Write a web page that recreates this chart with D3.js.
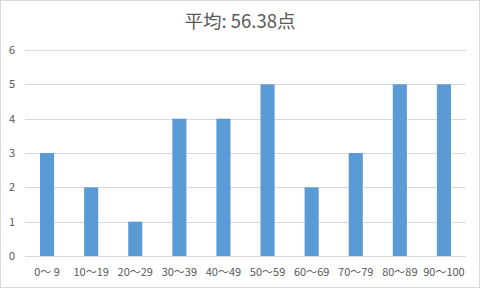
<!DOCTYPE html>
<html>
<head>
<meta charset="utf-8">
<script src="https://cdn.jsdelivr.net/npm/d3@7"></script>
<style>
  body { margin: 0; background: #fff; }
  svg { display: block; font-family: "Noto Sans CJK JP", "Noto Sans", sans-serif; }
</style>
</head>
<body>
<svg id="chart" width="480" height="288"></svg>
<script>
const title = "平均: 56.38点";
const categories = ["0～ 9", "10～19", "20～29", "30～39", "40～49", "50～59", "60～69", "70～79", "80～89", "90～100"];
const counts = [3, 2, 1, 4, 4, 5, 2, 3, 5, 5];
const yTicks = [0, 1, 2, 3, 4, 5, 6];

const width = 480, height = 288;
const plot = { left: 25, right: 466, top: 50, bottom: 256 };

const svg = d3.select("#chart");

svg.append("rect")
    .attr("x", 0.5).attr("y", 0.5)
    .attr("width", width - 1).attr("height", height - 1)
    .attr("fill", "#fff")
    .attr("stroke", "#d9d9d9");

const x = d3.scaleBand()
    .domain(categories)
    .range([plot.left, plot.right])
    .paddingInner(0.68)
    .paddingOuter(0.34);

const y = d3.scaleLinear()
    .domain([0, 6])
    .range([plot.bottom, plot.top]);

// gridlines
svg.append("g")
    .selectAll("line")
    .data(yTicks)
    .join("line")
    .attr("x1", plot.left).attr("x2", plot.right)
    .attr("y1", d => Math.round(y(d)) + 0.5)
    .attr("y2", d => Math.round(y(d)) + 0.5)
    .attr("stroke", "#d9d9d9");

// y labels
svg.append("g")
    .selectAll("text")
    .data(yTicks)
    .join("text")
    .attr("x", 12)
    .attr("y", d => y(d))
    .attr("dy", "0.35em")
    .attr("text-anchor", "middle")
    .attr("font-size", 11)
    .attr("fill", "#595959")
    .text(d => d);

// bars
svg.append("g")
    .selectAll("rect")
    .data(counts)
    .join("rect")
    .attr("x", (d, i) => x(categories[i]))
    .attr("width", x.bandwidth())
    .attr("y", d => y(d))
    .attr("height", d => y(0) - y(d))
    .attr("fill", "#5b9bd5");

// x labels
svg.append("g")
    .selectAll("text")
    .data(categories)
    .join("text")
    .attr("x", d => x(d) + x.bandwidth() / 2)
    .attr("y", 272)
    .attr("dy", "0.35em")
    .attr("text-anchor", "middle")
    .attr("font-size", 11)
    .attr("fill", "#595959")
    .text(d => d);

svg.append("text")
    .attr("x", width / 2)
    .attr("y", 22)
    .attr("dy", "0.35em")
    .attr("text-anchor", "middle")
    .attr("font-size", 18.5)
    .attr("fill", "#595959")
    .text(title);
</script>
</body>
</html>
